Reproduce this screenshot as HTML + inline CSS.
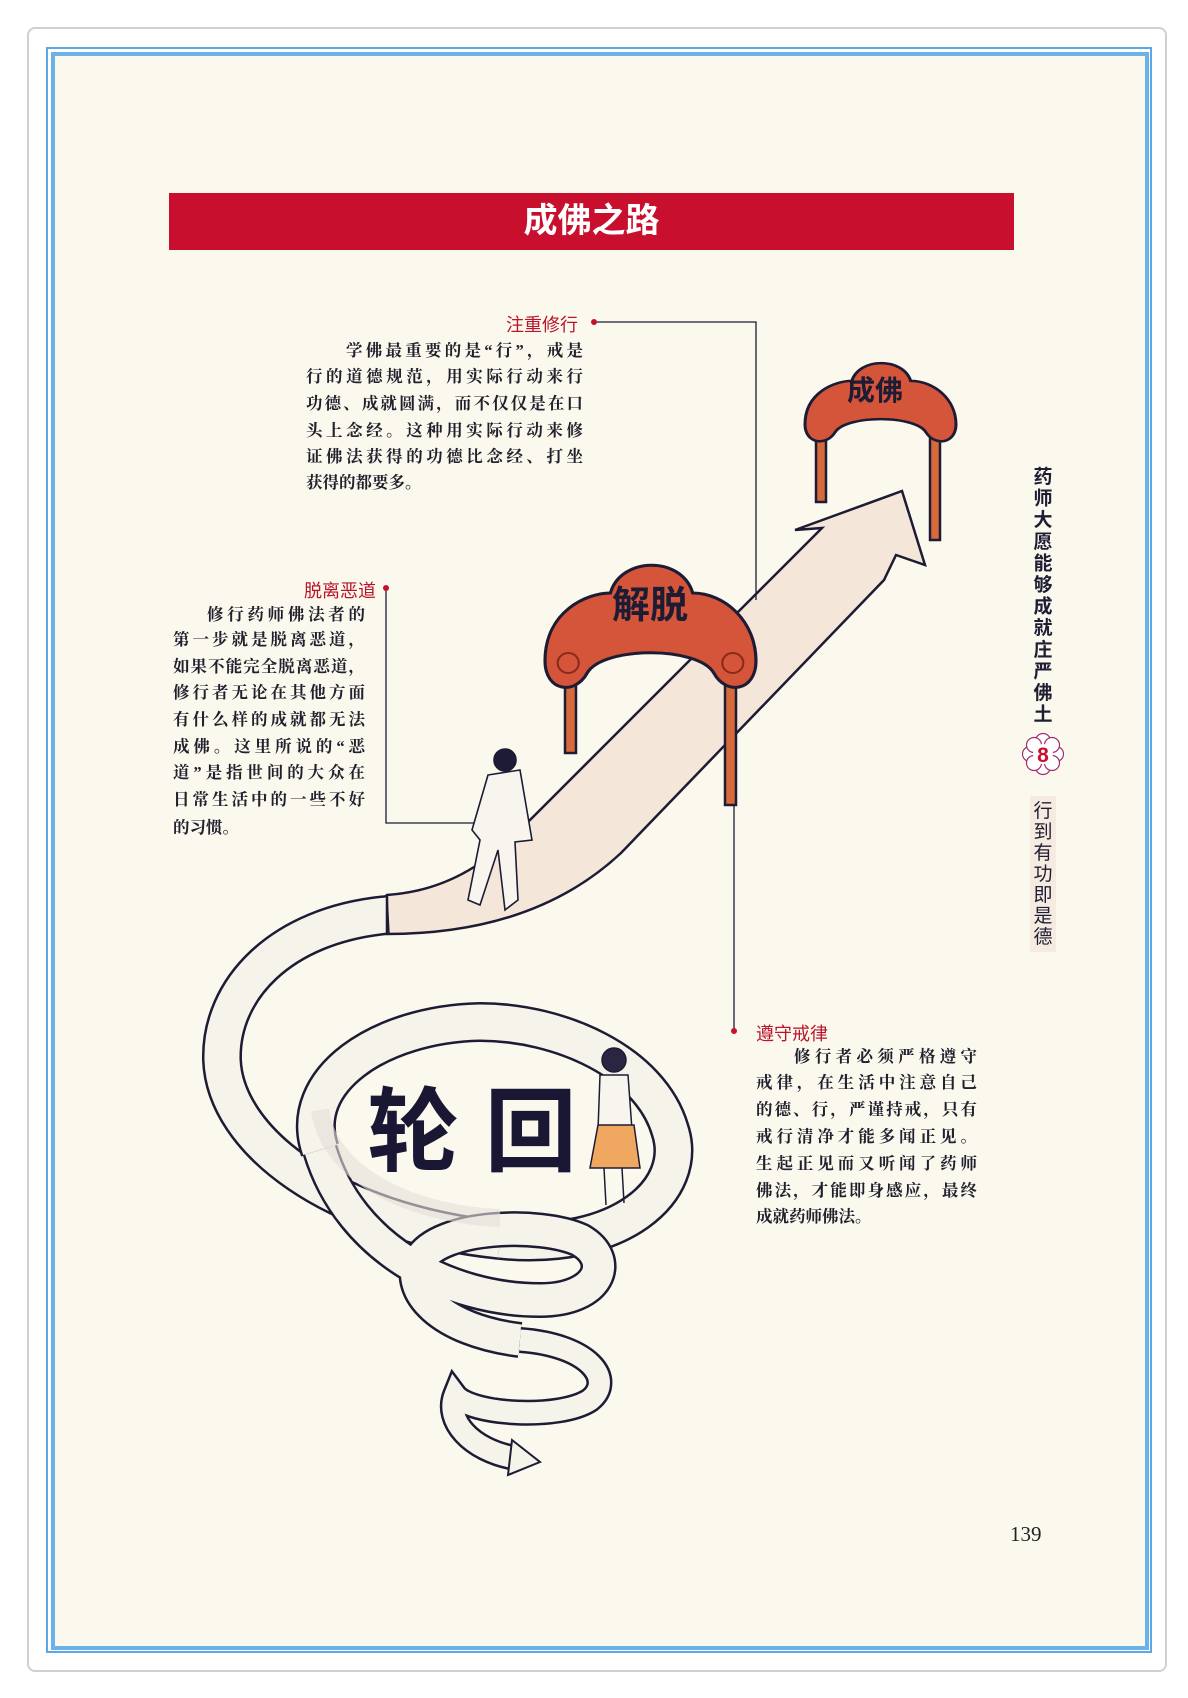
<!DOCTYPE html>
<html><head><meta charset="utf-8"><style>
html,body{margin:0;padding:0;background:#fff;}
body{width:1188px;height:1698px;position:relative;overflow:hidden;font-family:"Liberation Sans","Noto Sans CJK SC",sans-serif;}
.card{position:absolute;left:27px;top:27px;width:1136px;height:1641px;border:2px solid #d0d0d0;border-radius:8px;background:#fff;}
.f1{position:absolute;left:46px;top:47px;width:1102px;height:1602px;border:2px solid #5aa9e6;}
.f2{position:absolute;left:51px;top:52px;width:1090px;height:1590px;border:4px solid #6cb2ea;background:#fbf9ee;}
.t{position:absolute;font-size:16.5px;line-height:20px;color:#23202e;font-weight:bold;white-space:nowrap;text-align:justify;text-align-last:justify;font-family:"Liberation Serif","Noto Serif CJK SC",serif;}
.lab{position:absolute;font-size:18px;color:#b8142a;white-space:nowrap;}
</style></head><body>
<div class="card"></div>
<div class="f1"></div>
<div class="f2"></div>

<div style="position:absolute;left:169px;top:193px;width:845px;height:57px;background:#c8102e;"></div>
<div style="position:absolute;left:169px;top:193px;width:845px;height:57px;line-height:57px;text-align:center;color:#fff;font-size:34px;font-weight:bold;">成佛之路</div>
<div style="position:absolute;left:1030px;top:796px;width:26px;height:156px;background:#f6ebe0;"></div>

<svg style="position:absolute;left:0;top:0" width="1188" height="1698" viewBox="0 0 1188 1698">
<g fill="none" stroke-linecap="butt">
<path d="M 430 912 C 400 913 395 914 387 915 C 280 925 220 990 222 1060 C 225 1140 330 1222 500 1240" stroke="#1e1b35" stroke-width="40"/>
<path d="M 430 912 C 400 913 395 914 387 915 C 280 925 220 990 222 1060 C 225 1140 330 1222 500 1240" stroke="#f6f3ea" stroke-width="35" stroke-linecap="round"/>
<path d="M 500 1240 C 620 1252 690 1190 670 1130 C 650 1062 560 1022 480 1022 C 380 1024 296 1080 320 1150" stroke="#1e1b35" stroke-width="40"/>
<path d="M 500 1240 C 620 1252 690 1190 670 1130 C 650 1062 560 1022 480 1022 C 380 1024 296 1080 320 1150" stroke="#f6f3ea" stroke-width="35"/>
<path d="M 320 1150 C 350 1250 450 1300 540 1300 C 600 1300 615 1260 580 1240 C 540 1222 440 1225 420 1260 C 405 1290 440 1330 520 1340" stroke="#1e1b35" stroke-width="36"/>
<path d="M 320 1150 C 350 1250 450 1300 540 1300 C 600 1300 615 1260 580 1240 C 540 1222 440 1225 420 1260 C 405 1290 440 1330 520 1340" stroke="#f6f3ea" stroke-width="31"/>
<path d="M 520 1340 C 590 1345 615 1380 590 1400 C 560 1420 470 1415 455 1395 C 445 1420 470 1450 515 1458" stroke="#1e1b35" stroke-width="26"/>
<path d="M 520 1340 C 590 1345 615 1380 590 1400 C 560 1420 470 1415 455 1395 C 445 1420 470 1450 515 1458" stroke="#f6f3ea" stroke-width="21"/>
</g>
<path d="M 512 1440 L 540 1462 L 508 1475 Z" fill="#f6f3ea" stroke="#1e1b35" stroke-width="2"/>
<path d="M 320 1110 C 330 1180 420 1215 500 1218" fill="none" stroke="#e4e0d8" stroke-width="18" opacity="0.6"/>
<path d="M 387 895 C 460 890 500 850 535 815 L 822 528 L 795 530 L 902 491 L 925 565 L 896 555 L 884 580 L 621 853 C 560 910 480 934 387 934 Z" fill="#f4e7da" stroke="#1e1b35" stroke-width="2.5"/>
<line x1="387" y1="896" x2="389" y2="934" stroke="#1e1b35" stroke-width="1.5"/>

<g stroke="#1e1b35" stroke-width="1.3" fill="none">
<polyline points="594,322 756,322 756,600"/>
<polyline points="386,588 386,823 486,823"/>
<line x1="734" y1="805" x2="734" y2="1031"/>
</g>
<circle cx="594" cy="322" r="3" fill="#c8102e"/>
<circle cx="386" cy="588" r="3" fill="#c8102e"/>
<circle cx="734" cy="1031" r="3" fill="#c8102e"/>

<rect x="565" y="660" width="11" height="93" fill="#d66a3a" stroke="#1e1b35" stroke-width="2.5"/>
<rect x="725" y="665" width="11" height="140" fill="#d66a3a" stroke="#1e1b35" stroke-width="2.5"/>
<g transform="translate(545,551) scale(1.055,1)">
<path d="M0,110 C0,60 40,42 62,42 C72,5 130,5 140,42 C170,42 200,70 200,110 C200,140 172,145 160,122 C145,95 55,95 40,122 C28,145 0,140 0,110 Z" fill="#d4553a" stroke="#1e1b35" stroke-width="3"/>
<circle cx="22" cy="112" r="10" fill="none" stroke="#8a2a1a" stroke-width="2"/>
<circle cx="178" cy="112" r="10" fill="none" stroke="#8a2a1a" stroke-width="2"/>
</g>
<text x="650" y="618" font-size="38" font-weight="bold" fill="#1e1b35" text-anchor="middle" font-family="Liberation Sans, Noto Sans CJK SC, sans-serif">解脱</text>

<rect x="816" y="425" width="10" height="77" fill="#d66a3a" stroke="#1e1b35" stroke-width="2.5"/>
<rect x="930" y="430" width="10" height="110" fill="#d66a3a" stroke="#1e1b35" stroke-width="2.5"/>
<g transform="translate(805,354) scale(0.755,0.64)">
<path d="M0,110 C0,60 40,42 62,42 C72,5 130,5 140,42 C170,42 200,70 200,110 C200,140 172,145 160,122 C145,95 55,95 40,122 C28,145 0,140 0,110 Z" fill="#d4553a" stroke="#1e1b35" stroke-width="4"/>
</g>
<text x="875" y="400" font-size="28" font-weight="bold" fill="#1e1b35" text-anchor="middle" font-family="Liberation Sans, Noto Sans CJK SC, sans-serif">成佛</text>

<g stroke="#1e1b35" stroke-width="1.6" fill="#f8f5ee">
<path d="M488 775 L520 770 L532 840 L515 842 L518 900 L505 910 L498 850 L480 905 L468 900 L480 840 L472 830 Z"/>
<circle cx="505" cy="760" r="11" fill="#1e1b35"/>
</g>
<g stroke="#1e1b35" stroke-width="1.5">
<circle cx="614" cy="1060" r="12" fill="#2a2540"/>
<path d="M600 1075 L628 1075 L632 1130 L598 1130 Z" fill="#f8f5ee"/>
<path d="M598 1125 L634 1125 L640 1168 L590 1168 Z" fill="#f0a860"/>
<path d="M604 1168 L606 1205 M622 1168 L624 1203" fill="none"/>
</g>
<text x="472" y="1164" font-size="92" font-weight="bold" fill="#1a1735" text-anchor="middle" font-family="Liberation Sans, Noto Sans CJK SC, sans-serif">轮 回</text>

<g font-size="19" font-weight="bold" fill="#1e1d33" text-anchor="middle" font-family="Liberation Sans, Noto Sans CJK SC, sans-serif">
<text x="1043" y="483">药</text><text x="1043" y="504.6">师</text><text x="1043" y="526.2">大</text><text x="1043" y="547.8">愿</text><text x="1043" y="569.4">能</text><text x="1043" y="591">够</text><text x="1043" y="612.6">成</text><text x="1043" y="634.2">就</text><text x="1043" y="655.8">庄</text><text x="1043" y="677.4">严</text><text x="1043" y="699">佛</text><text x="1043" y="720.6">土</text>
</g>
<g fill="#fff" stroke="#a0306a" stroke-width="1.2">
<circle cx="1043" cy="741" r="7.5"/><circle cx="1043" cy="767" r="7.5"/><circle cx="1030" cy="754" r="7.5"/><circle cx="1056" cy="754" r="7.5"/>
<circle cx="1034" cy="745" r="7.5"/><circle cx="1052" cy="745" r="7.5"/><circle cx="1034" cy="763" r="7.5"/><circle cx="1052" cy="763" r="7.5"/>
<circle cx="1043" cy="754" r="10" stroke="none"/>
</g>
<text x="1043" y="762" font-size="21" font-weight="bold" fill="#c8102e" text-anchor="middle">8</text>
<g font-size="19" fill="#1e1d33" text-anchor="middle" font-family="Liberation Sans, Noto Sans CJK SC, sans-serif">
<text x="1043" y="817">行</text><text x="1043" y="838">到</text><text x="1043" y="859">有</text><text x="1043" y="880">功</text><text x="1043" y="901">即</text><text x="1043" y="922">是</text><text x="1043" y="943">德</text>
</g>
</svg>

<div class="lab" style="left:506px;top:311px;">注重修行</div>
<div class="t" style="left:346px;top:341px;width:237px;">学佛最重要的是“行”，戒是</div>
<div class="t" style="left:306px;top:367px;width:277px;">行的道德规范，用实际行动来行</div>
<div class="t" style="left:306px;top:394px;width:277px;">功德、成就圆满，而不仅仅是在口</div>
<div class="t" style="left:306px;top:421px;width:277px;">头上念经。这种用实际行动来修</div>
<div class="t" style="left:306px;top:447px;width:277px;">证佛法获得的功德比念经、打坐</div>
<div class="t" style="left:306px;top:473px;text-align-last:left;">获得的都要多。</div>

<div class="lab" style="left:304px;top:577px;">脱离恶道</div>
<div class="t" style="left:207px;top:605px;width:158px;">修行药师佛法者的</div>
<div class="t" style="left:173px;top:630px;width:192px;">第一步就是脱离恶道，</div>
<div class="t" style="left:173px;top:657px;width:192px;">如果不能完全脱离恶道，</div>
<div class="t" style="left:173px;top:683px;width:192px;">修行者无论在其他方面</div>
<div class="t" style="left:173px;top:710px;width:192px;">有什么样的成就都无法</div>
<div class="t" style="left:173px;top:737px;width:192px;">成佛。这里所说的“恶</div>
<div class="t" style="left:173px;top:763px;width:192px;">道”是指世间的大众在</div>
<div class="t" style="left:173px;top:790px;width:192px;">日常生活中的一些不好</div>
<div class="t" style="left:173px;top:818px;text-align-last:left;">的习惯。</div>

<div class="lab" style="left:756px;top:1020px;">遵守戒律</div>
<div class="t" style="left:794px;top:1047px;width:183px;">修行者必须严格遵守</div>
<div class="t" style="left:756px;top:1073px;width:221px;">戒律，在生活中注意自己</div>
<div class="t" style="left:756px;top:1100px;width:221px;">的德、行，严谨持戒，只有</div>
<div class="t" style="left:756px;top:1127px;width:221px;">戒行清净才能多闻正见。</div>
<div class="t" style="left:756px;top:1154px;width:221px;">生起正见而又听闻了药师</div>
<div class="t" style="left:756px;top:1181px;width:221px;">佛法，才能即身感应，最终</div>
<div class="t" style="left:756px;top:1207px;text-align-last:left;">成就药师佛法。</div>

<div style="position:absolute;left:1010px;top:1522px;font-size:21px;font-family:'Liberation Serif',serif;color:#222;">139</div>
</body></html>
